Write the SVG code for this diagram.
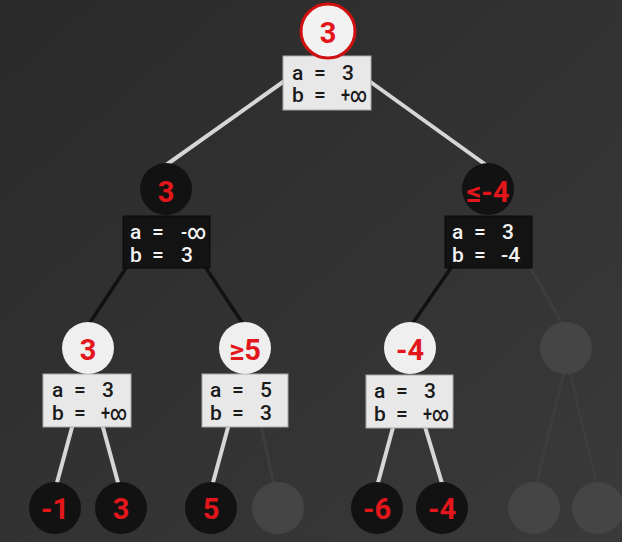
<svg xmlns="http://www.w3.org/2000/svg" width="622" height="542" viewBox="0 0 622 542">
<defs>
<linearGradient id="bg" x1="0" y1="0" x2="1" y2="1">
<stop offset="0" stop-color="#2a2a2a"/>
<stop offset="1" stop-color="#3a3a3a"/>
</linearGradient>
<style>
.num{font-family:Roboto,"Liberation Sans",sans-serif;font-weight:700;font-size:29px;fill:#e3161b;text-anchor:middle}
.bt{font-family:Roboto,"Liberation Sans",sans-serif;font-weight:500;font-size:21px}
.wt{fill:#f2f2f2}
.dk{fill:#1a1a1a}
.boxw{fill:#e8e8e8;stroke:#a8a8a8;stroke-width:1}
.boxb{fill:#131313;stroke:#0a0a0a;stroke-width:1}
.cw{fill:#efefef}
.cb{fill:#121212}
.cf{fill:#454545}
.el{stroke:#d6d6d6;stroke-width:4;stroke-linecap:round}
.eb{stroke:#111111;stroke-width:3.5;stroke-linecap:round}
.ef{stroke:#3d3d3d;stroke-width:3;stroke-linecap:round}
</style>
</defs>
<rect width="622" height="542" fill="url(#bg)"/>
<g id="connectors">
<line class="el" x1="290" y1="77" x2="159" y2="170"/>
<line class="el" x1="365" y1="78" x2="493" y2="170"/>
<line class="eb" x1="130" y1="262" x2="85" y2="330"/>
<line class="eb" x1="202" y1="262" x2="247" y2="330"/>
<line class="eb" x1="455" y1="262" x2="408" y2="330"/>
<line class="ef" x1="527" y1="262" x2="566" y2="330"/>
<line class="el" x1="74" y1="420" x2="55" y2="490"/>
<line class="el" x1="101" y1="420" x2="120" y2="490"/>
<line class="el" x1="230" y1="420" x2="211" y2="490"/>
<line class="ef" x1="260" y1="420" x2="275" y2="490"/>
<line class="el" x1="395" y1="420" x2="376" y2="490"/>
<line class="el" x1="423" y1="420" x2="444" y2="490"/>
<line class="ef" x1="567" y1="360" x2="535" y2="490"/>
<line class="ef" x1="567" y1="360" x2="598" y2="490"/>
</g>
<g id="root">
<rect class="boxw" x="283" y="56" width="88" height="54"/>
<circle cx="328" cy="31" r="27" fill="#f2f2f2" stroke="#d01010" stroke-width="3"/>
<text class="num" x="328" y="43">3</text>
<text class="bt dk" x="292" y="80">a</text><text class="bt dk" x="314" y="80">=</text><text class="bt dk" x="342" y="80">3</text>
<text class="bt dk" x="292" y="102">b</text><text class="bt dk" x="314" y="102">=</text><text class="bt dk" x="341" y="102" textLength="26" lengthAdjust="spacingAndGlyphs">+∞</text>
</g>
<g id="n_l">
<rect class="boxb" x="123" y="216" width="87" height="52"/>
<circle class="cb" cx="166" cy="189" r="26"/>
<text class="num" x="166" y="202">3</text>
<text class="bt wt" x="130" y="239">a</text><text class="bt wt" x="152" y="239">=</text><text class="bt wt" x="181" y="239" textLength="25" lengthAdjust="spacingAndGlyphs">-∞</text>
<text class="bt wt" x="130" y="262">b</text><text class="bt wt" x="152" y="262">=</text><text class="bt wt" x="181" y="262">3</text>
</g>
<g id="n_r">
<rect class="boxb" x="445" y="216" width="87" height="52"/>
<circle class="cb" cx="488" cy="189" r="26"/>
<text class="num" x="488" y="202">≤-4</text>
<text class="bt wt" x="452" y="239">a</text><text class="bt wt" x="474" y="239">=</text><text class="bt wt" x="502" y="239">3</text>
<text class="bt wt" x="452" y="262">b</text><text class="bt wt" x="474" y="262">=</text><text class="bt wt" x="501" y="262">-4</text>
</g>
<g id="n_ll">
<rect class="boxw" x="43" y="374" width="88" height="53"/>
<circle class="cw" cx="88" cy="348" r="26"/>
<text class="num" x="88" y="360">3</text>
<text class="bt dk" x="52" y="397">a</text><text class="bt dk" x="74" y="397">=</text><text class="bt dk" x="102" y="397">3</text>
<text class="bt dk" x="52" y="420">b</text><text class="bt dk" x="74" y="420">=</text><text class="bt dk" x="101" y="420" textLength="26" lengthAdjust="spacingAndGlyphs">+∞</text>
</g>
<g id="n_lr">
<rect class="boxw" x="202" y="374" width="86" height="53"/>
<circle class="cw" cx="245" cy="348" r="26"/>
<text class="num" x="245" y="360">≥5</text>
<text class="bt dk" x="210" y="397">a</text><text class="bt dk" x="232" y="397">=</text><text class="bt dk" x="260" y="397">5</text>
<text class="bt dk" x="210" y="420">b</text><text class="bt dk" x="232" y="420">=</text><text class="bt dk" x="260" y="420">3</text>
</g>
<g id="n_rl">
<rect class="boxw" x="366" y="375" width="87" height="53"/>
<circle class="cw" cx="410" cy="348" r="26"/>
<text class="num" x="410" y="360">-4</text>
<text class="bt dk" x="374" y="398">a</text><text class="bt dk" x="396" y="398">=</text><text class="bt dk" x="424" y="398">3</text>
<text class="bt dk" x="374" y="421">b</text><text class="bt dk" x="396" y="421">=</text><text class="bt dk" x="423" y="421" textLength="26" lengthAdjust="spacingAndGlyphs">+∞</text>
</g>
<g id="n_rr"><circle class="cf" cx="566" cy="348" r="26"/></g>
<g id="leaf1"><circle class="cb" cx="55" cy="508" r="26"/><text class="num" x="55" y="519">-1</text></g>
<g id="leaf2"><circle class="cb" cx="121" cy="508" r="26"/><text class="num" x="121" y="519">3</text></g>
<g id="leaf3"><circle class="cb" cx="211" cy="508" r="26"/><text class="num" x="211" y="519">5</text></g>
<g id="leaf4"><circle class="cf" cx="278" cy="508" r="26"/></g>
<g id="leaf5"><circle class="cb" cx="377" cy="508" r="26"/><text class="num" x="377" y="519">-6</text></g>
<g id="leaf6"><circle class="cb" cx="442" cy="508" r="26"/><text class="num" x="442" y="519">-4</text></g>
<g id="leaf7"><circle class="cf" cx="534" cy="508" r="26"/></g>
<g id="leaf8"><circle class="cf" cx="598" cy="508" r="26"/></g>
</svg>
